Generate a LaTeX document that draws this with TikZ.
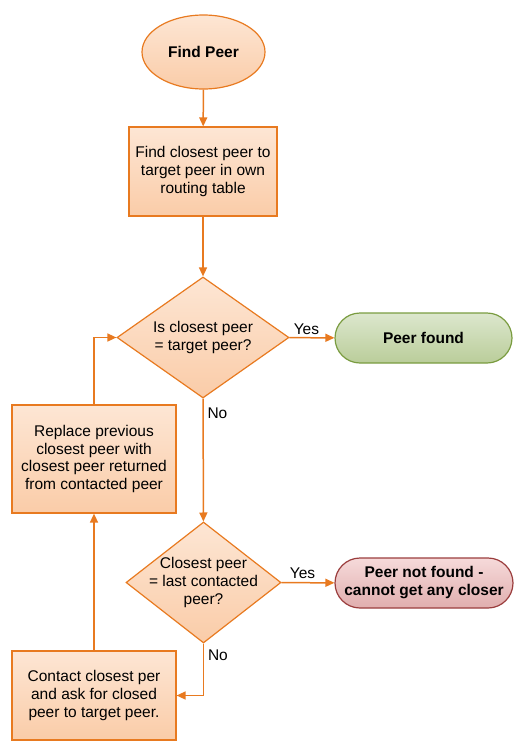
\documentclass[tikz,border=0pt]{standalone}
\usepackage{fontspec}
\setmainfont{Liberation Sans}
\usetikzlibrary{shapes.geometric}
\usetikzlibrary{shapes.misc}
\usetikzlibrary{arrows.meta, positioning}

\definecolor{flowline}{RGB}{232,122,32}
\definecolor{peachtop}{RGB}{253,230,212}
\definecolor{peachbot}{RGB}{250,204,168}
\definecolor{greenline}{RGB}{122,156,64}
\definecolor{greentop}{RGB}{220,231,205}
\definecolor{greenbot}{RGB}{186,205,154}
\definecolor{redline}{RGB}{155,62,62}
\definecolor{redtop}{RGB}{246,218,218}
\definecolor{redbot}{RGB}{224,174,174}

\tikzset{
  stepbox/.style={rectangle,draw=flowline,line width=1.2pt,top color=peachtop,bottom color=peachbot,align=center,inner sep=2pt},
  decision/.style={diamond,draw=flowline,line width=1.2pt,top color=peachtop,bottom color=peachbot,align=center,inner sep=-12pt},
  startnode/.style={ellipse,draw=flowline,line width=1.2pt,top color=peachtop,bottom color=peachbot,font=\fontsize{15.5}{18}\selectfont\bfseries},
  flow/.style={draw=flowline,line width=1.5pt,-{Triangle[length=9pt,width=8pt]}},
  answer/.style={font=\fontsize{15.5}{18}\selectfont}
}

\begin{document}
\begin{tikzpicture}[x=1pt,y=-1pt,font=\fontsize{15.5}{17.8}\selectfont]
\useasboundingbox (0,0) rectangle (517,753);

\node[startnode,minimum width=123pt,minimum height=74pt] (start) at (203.5,52) {Find Peer};
\node[stepbox,minimum width=148pt,minimum height=89pt] (lookup) at (203,171.5) {Find closest peer to\\target peer in own\\routing table};
\node[decision,minimum width=172pt,minimum height=121pt] (isTarget) at (203,337.5) {Is closest peer\\= target peer?};
\node[rectangle,rounded corners=25pt,draw=greenline,line width=1.2pt,top color=greentop,bottom color=greenbot,
  minimum width=177pt,minimum height=50pt,font=\fontsize{15.5}{18}\selectfont\bfseries] (found) at (423.5,338) {Peer found};
\node[stepbox,minimum width=164pt,minimum height=108pt] (replace) at (94,459) {Replace previous\\closest peer with\\closest peer returned\\from contacted peer};
\node[decision,minimum width=155pt,minimum height=121pt] (isLast) at (203.5,582.5) {Closest peer\\= last contacted\\peer?};
\node[rectangle,rounded corners=25pt,draw=redline,line width=1.2pt,top color=redtop,bottom color=redbot,
  minimum width=178pt,minimum height=50pt,align=center,font=\fontsize{15.5}{18}\selectfont\bfseries] (notFound) at (424,583) {Peer not found -\\cannot get any closer};
\node[stepbox,minimum width=164pt,minimum height=89pt] (contact) at (94,695.5) {Contact closest per\\and ask for closed\\peer to target peer.};

\draw[flow] (start) -- (lookup);
\draw[flow] (lookup) -- (isTarget);
\draw[flow] (isTarget) -- (found) node[answer,pos=0.38,above,yshift=-1pt] {Yes};
\draw[flow] (isTarget) -- (isLast);
\node[answer,anchor=west] (noA) at ([xshift=1pt,yshift=-15pt]isTarget.south) {No};
\draw[flow] (isLast) -- (notFound) node[answer,pos=0.4,above] {Yes};
\draw[flow] (isLast.south) |- (contact.east);
\node[answer,anchor=west] (noB) at ([xshift=1pt,yshift=-12pt]isLast.south) {No};
\draw[flow] (contact) -- (replace);
\draw[flow] (replace.north) |- (isTarget.west);

\end{tikzpicture}
\end{document}
